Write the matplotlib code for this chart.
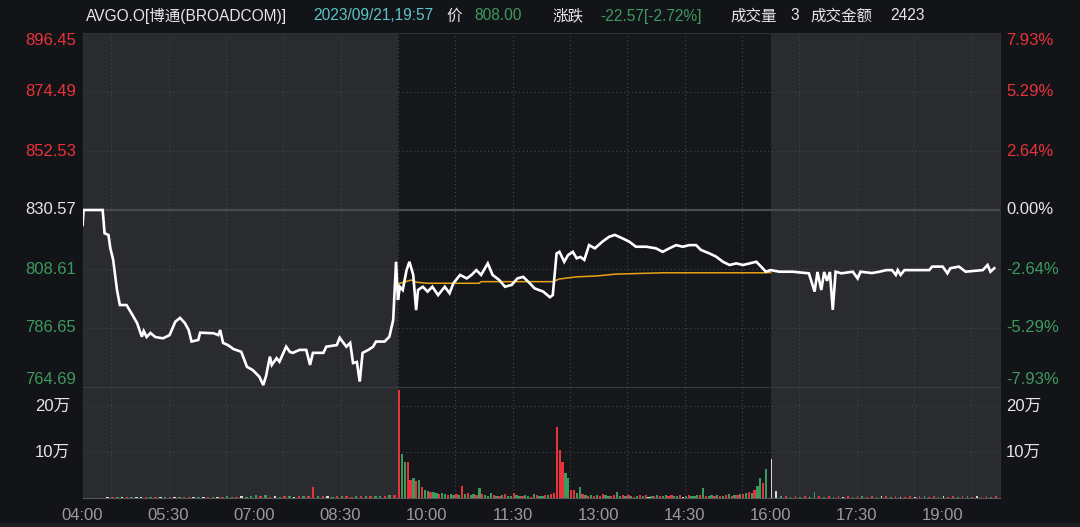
import matplotlib.pyplot as plt
import numpy as np
from matplotlib.transforms import blended_transform_factory

plt.rcParams['font.family'] = ['Liberation Sans', 'Noto Sans CJK SC', 'DejaVu Sans']

# ---- data (x values are minutes after 04:00) ----
prev_close = 830.57
price_ticks = [764.69, 786.65, 808.61, 830.57, 852.53, 874.49, 896.45]
pct_labels = ['-7.93%', '-5.29%', '-2.64%', '0.00%', '2.64%', '5.29%', '7.93%']
time_labels = ['04:00', '05:30', '07:00', '08:30', '10:00', '11:30', '13:00', '14:30', '16:00', '17:30', '19:00']

price_min = [0, 1, 21, 23, 27, 29, 32, 36, 39, 46, 51, 57, 62, 64, 67, 71, 76, 84, 91, 97, 102,
             107, 111, 114, 121, 123, 137, 142, 144, 147, 152, 158, 166, 172, 178, 185, 189, 192,
             196, 198, 203, 206, 213, 217, 220, 227, 234, 238, 241, 252, 255, 266, 269, 276, 280,
             283, 287, 290, 293, 299, 304, 307, 316, 321, 325, 328,
             330, 332, 335, 339, 342, 346, 349, 351, 356, 361, 366, 372, 379, 384, 388, 395, 402,
             407, 412, 417, 424, 429, 436, 442, 449, 455, 461, 468, 473, 482, 489, 492, 496, 499,
             504, 508, 513, 517, 521, 525, 530, 536, 544, 551, 557, 565, 572, 579, 590, 600, 607,
             614, 621, 628, 635, 642, 647, 656, 663, 670, 677, 684, 691, 698, 705, 710, 715, 720,
             729, 743, 760, 766, 769, 773, 776, 779, 782, 785, 788, 794, 806, 811, 814, 826, 834,
             841, 847, 851, 853, 856, 860, 886, 889, 900, 905, 908, 917, 924, 942, 947, 950, 954]
price_val = [825.0, 830.57, 830.57, 821.9, 821.3, 816.4, 812.0, 800.8, 795.2, 795.2, 792.2, 788.5,
             783.4, 785.5, 783.3, 784.8, 783.3, 782.8, 784.0, 789.0, 790.4, 788.5, 785.9, 781.6,
             782.2, 784.9, 784.7, 784.0, 785.9, 781.1, 780.3, 778.8, 777.8, 772.2, 771.0, 768.5,
             765.4, 768.8, 776.0, 772.9, 775.4, 774.1, 779.7, 777.7, 777.4, 778.5, 778.5, 772.9,
             777.4, 777.4, 779.7, 780.3, 783.0, 779.7, 781.1, 773.6, 774.0, 766.7, 777.4, 778.5,
             779.7, 781.6, 781.6, 783.4, 789.6, 811.3,
             797.1, 802.0, 800.8, 808.2, 811.3, 806.4, 793.3, 800.8, 802.0, 800.2, 802.0, 798.9,
             802.0, 799.6, 803.3, 806.4, 805.1, 806.4, 808.2, 806.4, 810.7, 806.4, 804.5, 802.0,
             802.7, 805.1, 805.7, 803.3, 801.4, 800.2, 798.1, 798.9, 814.4, 815.0, 811.3, 813.8,
             815.0, 812.6, 813.1, 812.0, 817.5, 816.3, 818.8, 820.6, 821.3, 820.0, 818.8, 816.9,
             816.9, 816.3, 815.0, 816.3, 817.5, 816.9, 817.5, 817.5, 815.7, 814.4, 813.2, 811.3,
             810.1, 810.7, 810.1, 810.7, 811.3, 809.5, 807.6, 808.2,
             807.6, 807.6, 807.0, 800.2, 807.5, 800.8, 807.5, 804.2, 807.5, 793.4, 807.6, 807.0,
             807.6, 805.1, 807.6, 807.1, 807.6, 808.2, 808.2, 806.4, 808.2, 806.4, 808.2, 808.2,
             809.5, 809.5, 807.0, 808.9, 809.5, 807.6, 808.2, 810.1, 807.6, 808.9]

avg_min = [330, 332, 344, 349, 361, 415, 417, 492, 499, 517, 537, 558, 607, 712, 720]
avg_val = [803.0, 803.3, 804.5, 803.7, 803.3, 803.3, 803.9, 803.9, 804.9, 805.7, 806.0, 806.7,
           807.2, 807.2, 807.3]

# volume in 万, pre-market 5-min bars from 04:00
pre_vol = [0, 0, 0, 0, 0, 0.3, 0.25, 0.3, 0.2, 0.3,
           0.25, 0.3, 0.2, 0.3, 0.3, 0.25, 0.3, 0.2, 0.3, 0.25,
           0.3, 0.3, 0.25, 0.3, 0.2, 0.3, 0.3, 0.25, 0.3, 0.3,
           0.35, 0.3, 0.3, 0.35, 0.3, 0.4, 0.65, 0.35, 0.55, 0.3,
           0.35, 0.3, 0.4, 0.35, 0.3, 0.4, 0.35, 0.4, 2.3, 0.4,
           0.35, 0.4, 0.3, 0.45, 0.35, 0.4, 0.3, 0.5, 0.35, 0.4,
           0.45, 0.35, 0.5, 0.4, 0.55, 0.6]
pre_dir = "wwwwwwrgwr" "gwwrgrwgrw" "grrwgwrgwr" "ggrwgggrgr" "wgrgwrgrrg" "rwgrgrrgrg" "rggrgr"

# regular session 3-min bars from 09:30
reg_vol = [23.5, 9.7, 7.9, 7.9, 3.9, 4.3, 3.6, 4.0, 2.3, 1.7,
           1.5, 1.2, 1.3, 1.0, 0.8, 1.1, 0.9, 0.7, 0.8, 0.6, 0.9, 0.7,
           2.6, 0.8, 1.0, 0.6, 0.9, 0.7, 2.1,
           0.9, 0.6, 0.5, 1.0, 0.7, 0.5, 0.4, 0.6, 0.9, 0.5,
           0.4, 1.1, 0.6, 0.5, 0.4, 0.7, 0.5, 0.3, 0.8, 0.6,
           0.5, 0.4, 0.6, 0.7, 0.9, 1.0,
           15.5, 10.4, 7.9, 5.4, 4.3, 1.7, 1.7, 1.0, 2.5,
           0.8, 0.6, 0.5, 0.7, 0.4, 0.6, 0.5, 0.8, 0.6, 0.5,
           0.4, 0.6, 1.2, 0.5, 0.7, 0.4, 0.6, 0.5, 0.3, 0.5,
           0.7, 0.4, 0.6, 0.3, 0.5, 0.4, 0.6, 0.5, 0.4, 0.6,
           0.5, 0.7, 0.4, 0.5, 0.6, 0.3, 0.5, 0.6, 0.4, 0.5, 0.7,
           0.6, 2.1,
           0.5, 0.4, 0.6, 0.5, 0.7, 0.4, 0.5, 0.6, 0.8, 0.5, 0.7, 0.6, 0.9, 0.8, 1.0, 1.2, 1.1,
           1.7, 2.6, 4.3, 3.2, 6.4]
reg_dir = ("rggrrgrgrg" "grggrggrggrg" "r" "grggr" "g"
           "rgggrgrgrg" "grggrggrgr" "ggrgrr"
           "rrrggrrgg"
           "rgrgrgrrgg" "rrggrgrgrg" "rgrwgrgrgg" "rrggrwgrggg"
           "rg"
           "rggrgrgrgrgrgrgrg"
           "rggrg")

# post-market 5-min bars from 16:00
post_vol = [8.5, 1.6, 0.5, 0.4, 0.3, 0.4, 0.3, 0.45, 0.3, 1.2,
            0.4, 0.3, 0.35, 0.3, 0.4, 0.3, 0.35, 0.3, 0.4, 0.35,
            0.3, 0.4, 0.3, 0.35, 0.4, 0.3, 0.35, 0.3, 0.3, 0.4,
            0.3, 0.35, 0.4, 0.3, 0.45, 0.3, 0.35, 0.3, 0.4, 0.3,
            0.35, 0.45, 0.3, 0.4, 0.3, 0.45, 0.3, 0.35]
post_dir = "wwgrgrgrwg" "rgrgrwrgrg" "rrgwrgrwrr" "wrgrrgwrrg" "rgrwrrgr"

# ---- style ----
bg_fig = '#131418'
bg_main = '#16171b'
bg_ext = '#2a2b2f'
red = '#e8333c'
green = '#3d9a5e'
white = '#e6e6e6'
cyan = '#5cc3c6'
grid_c = '#45464b'
dir_color = {'r': red, 'g': green, 'w': '#d8d8d8'}
fs = 12

fig = plt.figure(figsize=(10.8, 5.27), dpi=100, facecolor=bg_fig)
W, H = 1080, 527
x0, x1 = 82.6, 1000
ax = fig.add_axes([x0 / W, 1 - 387 / H, (x1 - x0) / W, (387 - 33) / H])
axv = fig.add_axes([x0 / W, 1 - 498 / H, (x1 - x0) / W, (498 - 387) / H])

for a in (ax, axv):
    a.set_facecolor(bg_main)
    a.set_xlim(0, 960)
    a.axvspan(0, 330, color=bg_ext, lw=0, zorder=0)
    a.axvspan(720, 960, color=bg_ext, lw=0, zorder=0)
    for m in range(30, 960, 60):
        a.axvline(m, color=grid_c, lw=0.8, ls=(0, (1, 2.5)), zorder=1)
    for s in a.spines.values():
        s.set_color('#2e2f33')
        s.set_linewidth(0.8)

ax.set_ylim(price_ticks[0], price_ticks[-1])
for p in price_ticks[1:-1]:
    if p == prev_close:
        ax.axhline(p, color='#4a4b50', lw=1.6, zorder=1)
    else:
        ax.axhline(p, color=grid_c, lw=0.8, ls=(0, (1, 2.5)), zorder=1)

ax.plot(price_min, price_val, color='white', lw=1.9, zorder=4, solid_joinstyle='miter')
ax.plot(avg_min, avg_val, color='#e8a317', lw=1.1, zorder=3)

ax.set_xticks([])
ax.set_yticks([])

# price axis labels
tl = blended_transform_factory(ax.transAxes, ax.transData)
for i, (p, pl) in enumerate(zip(price_ticks, pct_labels)):
    c = red if p > prev_close else (green if p < prev_close else white)
    va = 'top' if i == len(price_ticks) - 1 else ('bottom' if i == 0 else 'center')
    ax.text(-0.0068, p, f'{p:.2f}', transform=tl, ha='right', va=va, color=c, fontsize=fs)
    ax.text(1.0068, p, pl, transform=tl, ha='left', va=va, color=c, fontsize=fs)

# volume bars
pre_x = np.arange(len(pre_vol)) * 5
reg_x = 330 + np.arange(len(reg_vol)) * 3
post_x = 720 + np.arange(len(post_vol)) * 5
axv.bar(pre_x, pre_vol, width=2.6, align='edge', color=[dir_color[d] for d in pre_dir], lw=0, zorder=3)
axv.bar(reg_x, reg_vol, width=2.4, align='edge', color=[dir_color[d] for d in reg_dir], lw=0, zorder=3)
axv.bar(post_x, post_vol, width=1.6, align='edge', color=[dir_color[d] for d in post_dir], lw=0, zorder=3)

axv.set_ylim(0, 24.2)
for v in (10, 20):
    axv.axhline(v, color=grid_c, lw=0.8, ls=(0, (1, 2.5)), zorder=1)
axv.spines['bottom'].set_color('#55565b')
axv.spines['top'].set_color('#3a3b3f')
axv.set_yticks([])
tv = blended_transform_factory(axv.transAxes, axv.transData)
for v in (10, 20):
    axv.text(-0.0135, v, f'{v}万', transform=tv, ha='right', va='center', color=white, fontsize=fs)
    axv.text(1.0068, v, f'{v}万', transform=tv, ha='left', va='center', color=white, fontsize=fs)

axv.set_xticks(np.arange(len(time_labels)) * 90)
axv.set_xticklabels(time_labels, color='#9b9b9b', fontsize=fs)
axv.tick_params(axis='x', length=0, pad=7)

# header
hy = 1 - 16 / H
header = [(86, 'AVGO.O[博通(BROADCOM)]', white), (313, '2023/09/21,19:57', cyan),
          (446, '价', white), (474, '808.00', green), (552, '涨跌', white),
          (600, '-22.57[-2.72%]', green), (730, '成交量', white), (790, '3', white),
          (810, '成交金额', white), (890, '2423', white)]
for hx, txt, c in header:
    fig.text(hx / W, hy, txt, color=c, fontsize=11.2, ha='left', va='center')

fig.patches.append(plt.Rectangle((0, 0), 1, 4 / H, transform=fig.transFigure,
                                 color='#1d1e22', zorder=0))

fig.savefig('out.png', dpi=100, facecolor=bg_fig)
